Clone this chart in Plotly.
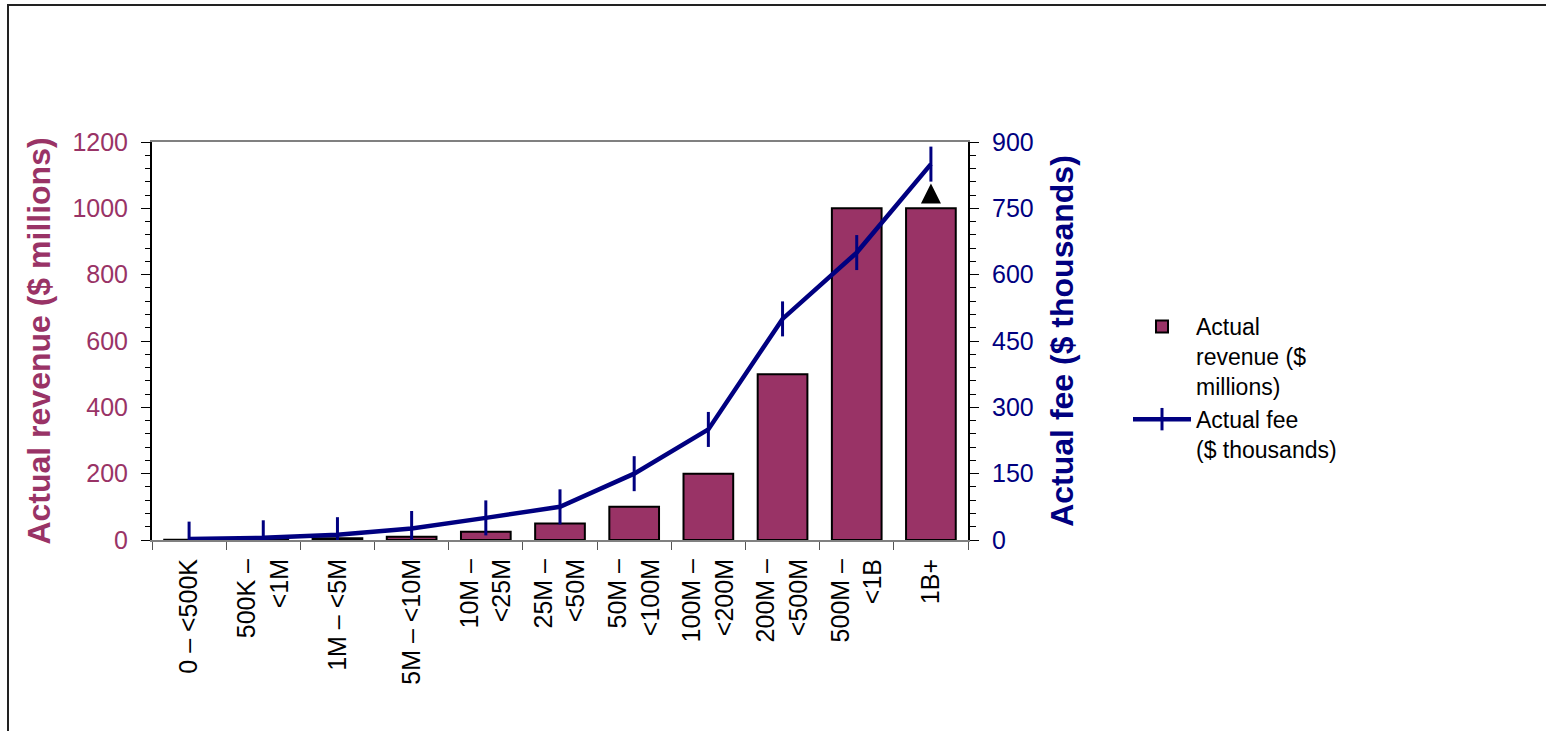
import plotly.graph_objects as go

categories = ["0 – <500K", "500K –<br><1M", "1M – <5M", "5M – <10M", "10M –<br><25M",
              "25M –<br><50M", "50M –<br><100M", "100M –<br><200M", "200M –<br><500M",
              "500M –<br><1B", "1B+"]
revenue_millions = [0.5, 1, 5, 10, 25, 50, 100, 200, 500, 1000, 1000]
fee_thousands = [2, 5, 12, 26, 50, 75, 150, 250, 500, 650, 850]
overflow_category = ["1B+"]
overflow_marker_value = [1075]

FONT = "Arial, Liberation Sans, sans-serif"
REV_COLOR = "#993366"
FEE_COLOR = "#000080"

fig = go.Figure()
fig.add_trace(go.Bar(
    x=categories, y=revenue_millions, name="Actual<br>revenue ($<br>millions)",
    marker=dict(color=REV_COLOR, line=dict(color="black", width=2)),
    yaxis="y",
))
fig.add_trace(go.Scatter(
    x=categories, y=fee_thousands, name="Actual fee<br>($ thousands)",
    mode="lines+markers", yaxis="y2",
    line=dict(color=FEE_COLOR, width=4.5),
    marker=dict(symbol="line-ns", size=25, line=dict(color=FEE_COLOR, width=3), color=FEE_COLOR),
))
fig.add_trace(go.Scatter(
    x=overflow_category, y=overflow_marker_value, mode="markers", yaxis="y",
    marker=dict(symbol="arrow-up", size=20, color="black"),
    showlegend=False, hoverinfo="skip",
))

L, R, T, B = 152, 578, 142, 191
W, H = 1546, 731
pw, ph = W - L - R, H - T - B

fig.update_layout(
    width=W, height=H,
    margin=dict(l=L, r=R, t=T, b=B, autoexpand=False),
    paper_bgcolor="white", plot_bgcolor="white",
    font=dict(family=FONT, size=25, color="black"),
    bargap=0.33,
    showlegend=True,
    legend=dict(x=(1128 - L) / pw, y=(540 - 305) / ph, xanchor="left", yanchor="top",
                font=dict(size=23, color="black"), valign="top", itemwidth=58,
                bgcolor="rgba(0,0,0,0)", tracegroupgap=0),
    xaxis=dict(
        type="category", tickangle=-90, tickson="boundaries",
        ticks="outside", ticklen=8, tickcolor="#555555", tickwidth=1,
        showline=True, linecolor="#808080", linewidth=2, mirror=True,
        showgrid=False, zeroline=False,
        tickfont=dict(size=25, color="black"), ticklabelstandoff=7,
        range=[-0.5, len(categories) - 0.5],
    ),
    yaxis=dict(
        range=[0, 1200], dtick=200, tick0=0,
        ticks="outside", ticklen=9, tickcolor="black", tickwidth=1,
        minor=dict(dtick=40, ticks="outside", ticklen=5, tickcolor="black", showgrid=False),
        showline=True, linecolor="black", linewidth=2,
        showgrid=False, zeroline=False,
        tickfont=dict(size=25, color=REV_COLOR), ticklabelstandoff=8,
        title=dict(text="<b>Actual revenue ($ millions)</b>",
                   font=dict(size=32, color=REV_COLOR), standoff=12),
    ),
    yaxis2=dict(
        overlaying="y", side="right",
        range=[0, 900], dtick=150, tick0=0,
        ticks="outside", ticklen=9, tickcolor="black", tickwidth=1,
        minor=dict(dtick=30, ticks="outside", ticklen=6, tickcolor="black", showgrid=False),
        showline=True, linecolor="black", linewidth=2,
        showgrid=False, zeroline=False,
        tickfont=dict(size=25, color=FEE_COLOR), ticklabelstandoff=8,
        title=dict(text="<b>Actual fee ($ thousands)</b>",
                   font=dict(size=32, color=FEE_COLOR), standoff=18),
    ),
    shapes=[dict(type="rect", xref="paper", yref="paper",
                 x0=(8 - L) / pw, x1=(W + 10 - L) / pw,
                 y0=(540 - (H + 10)) / ph, y1=(540 - 5) / ph,
                 line=dict(color="#222222", width=2), fillcolor="rgba(0,0,0,0)", layer="below")],
)

fig.write_html("out.html")
